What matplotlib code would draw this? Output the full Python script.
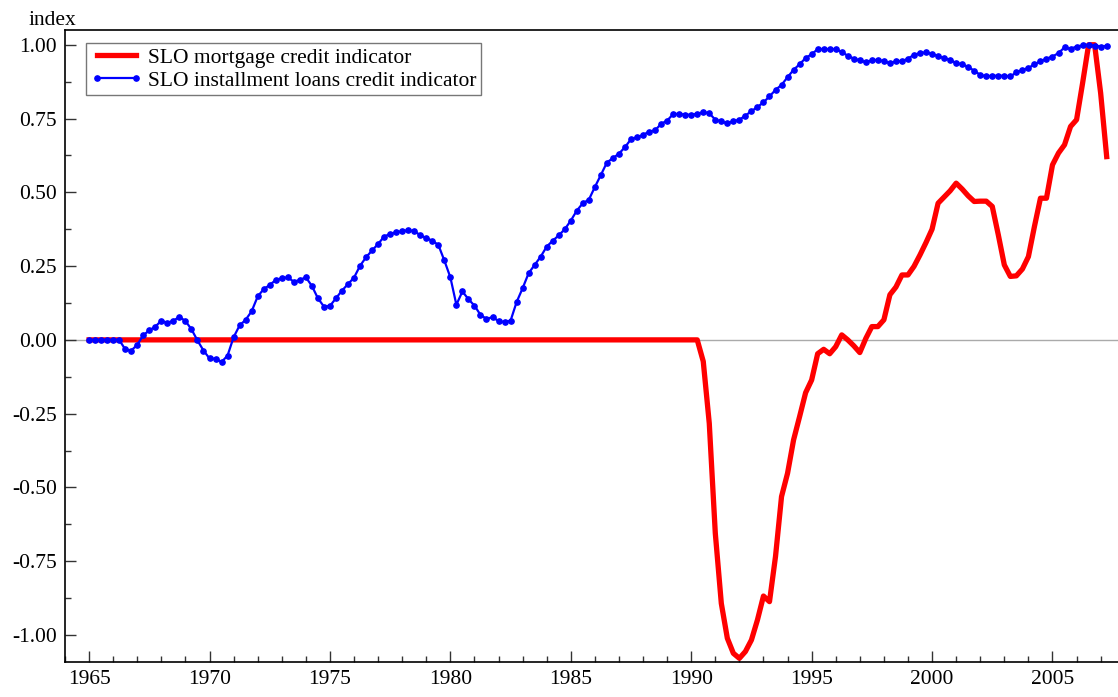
import matplotlib
matplotlib.use("Agg")
import matplotlib.pyplot as plt
from matplotlib.ticker import MultipleLocator
import numpy as np

plt.rcParams['font.family'] = ['Liberation Serif', 'DejaVu Serif']

# quarterly dates, 1965Q1 .. 2007Q2
years = 1965 + np.arange(170) / 4.0

# SLO installment loans credit indicator (blue)
installment = [
    0.0, 0.0, 0.0, 0.0, 0.0, 0.0, -0.032, -0.036, -0.017, 0.016,
    0.032, 0.045, 0.065, 0.058, 0.065, 0.078, 0.064, 0.036, -0.002, -0.036,
    -0.063, -0.064, -0.075, -0.053, 0.009, 0.049, 0.068, 0.097, 0.147, 0.172,
    0.186, 0.203, 0.209, 0.212, 0.197, 0.203, 0.212, 0.183, 0.141, 0.113,
    0.115, 0.141, 0.167, 0.189, 0.211, 0.251, 0.280, 0.303, 0.325, 0.350,
    0.359, 0.365, 0.368, 0.372, 0.368, 0.355, 0.345, 0.336, 0.322, 0.269,
    0.212, 0.119, 0.164, 0.138, 0.116, 0.085, 0.071, 0.077, 0.064, 0.060,
    0.065, 0.128, 0.175, 0.226, 0.254, 0.282, 0.316, 0.336, 0.354, 0.375,
    0.404, 0.438, 0.463, 0.475, 0.518, 0.559, 0.601, 0.616, 0.631, 0.653,
    0.680, 0.687, 0.694, 0.706, 0.710, 0.732, 0.743, 0.765, 0.766, 0.763,
    0.763, 0.766, 0.772, 0.768, 0.746, 0.740, 0.734, 0.741, 0.746, 0.760,
    0.775, 0.789, 0.805, 0.825, 0.847, 0.864, 0.890, 0.915, 0.934, 0.955,
    0.968, 0.985, 0.985, 0.985, 0.985, 0.975, 0.963, 0.953, 0.947, 0.941,
    0.947, 0.949, 0.944, 0.938, 0.944, 0.944, 0.953, 0.966, 0.972, 0.974,
    0.970, 0.961, 0.955, 0.949, 0.938, 0.934, 0.925, 0.912, 0.898, 0.893,
    0.895, 0.895, 0.895, 0.893, 0.906, 0.915, 0.921, 0.934, 0.944, 0.953,
    0.960, 0.972, 0.991, 0.986, 0.994, 0.998, 1.000, 0.997, 0.994, 0.996,
]

# SLO mortgage credit indicator (red): zero until 1990Q2
mortgage = [0.0] * 102 + [
    -0.073, -0.283, -0.655, -0.893, -1.011, -1.062, -1.079, -1.056, -1.017, -0.949,
    -0.868, -0.887, -0.734, -0.531, -0.452, -0.339, -0.260, -0.179, -0.136, -0.047,
    -0.032, -0.047, -0.023, 0.017, 0.000, -0.020, -0.043, 0.005, 0.045, 0.045,
    0.068, 0.153, 0.179, 0.220, 0.220, 0.249, 0.288, 0.330, 0.375, 0.463,
    0.484, 0.505, 0.531, 0.511, 0.488, 0.469, 0.470, 0.470, 0.452, 0.356,
    0.254, 0.215, 0.217, 0.240, 0.282, 0.384, 0.480, 0.480, 0.593, 0.633,
    0.661, 0.723, 0.746, 0.870, 1.000, 1.000, 0.836, 0.621,
]

fig = plt.figure(figsize=(11.18, 6.97), dpi=100)
ax = fig.add_axes([65 / 1118, 35 / 697, 1 - 65 / 1118, (662 - 30) / 697])

ax.axhline(0, color='#aaaaaa', lw=1, zorder=1)
ax.plot(years, mortgage, color='#ff0000', lw=3.8, solid_joinstyle='round',
        label='SLO mortgage credit indicator', zorder=2)
ax.plot(years, installment, color='#0000ff', lw=1.6, marker='o', markersize=3.8,
        label='SLO installment loans credit indicator', zorder=3)

ax.set_xlim(1964.0, 2007.72)
ax.set_ylim(-1.0915, 1.05)

ax.xaxis.set_major_locator(MultipleLocator(5))
ax.xaxis.set_minor_locator(MultipleLocator(1))
ax.yaxis.set_major_locator(MultipleLocator(0.25))
ax.yaxis.set_minor_locator(MultipleLocator(0.125))
ax.yaxis.set_major_formatter(matplotlib.ticker.FormatStrFormatter('%.2f'))

ax.tick_params(which='both', direction='in', top=False, right=False,
               labelsize=15.5, width=1, color='#333333')
ax.tick_params(which='major', length=8)
ax.tick_params(which='minor', length=4)
ax.tick_params(axis='x', pad=6)
ax.tick_params(axis='y', pad=6)

ax.spines['right'].set_visible(False)
for s in ['left', 'bottom', 'top']:
    ax.spines[s].set_linewidth(1.2)

ax.text(-0.035, 1.0, 'index', transform=ax.transAxes, fontsize=15.5,
        ha='left', va='bottom')

leg = ax.legend(loc='upper left', bbox_to_anchor=(0.02, 0.979), fontsize=15.5,
                frameon=True, fancybox=False, borderpad=0.2, labelspacing=0.15,
                handlelength=2.4, handletextpad=0.3, borderaxespad=0,
                numpoints=2)
leg.get_frame().set_edgecolor('#555555')
leg.get_frame().set_linewidth(1)

fig.savefig('out.png', dpi=100)
